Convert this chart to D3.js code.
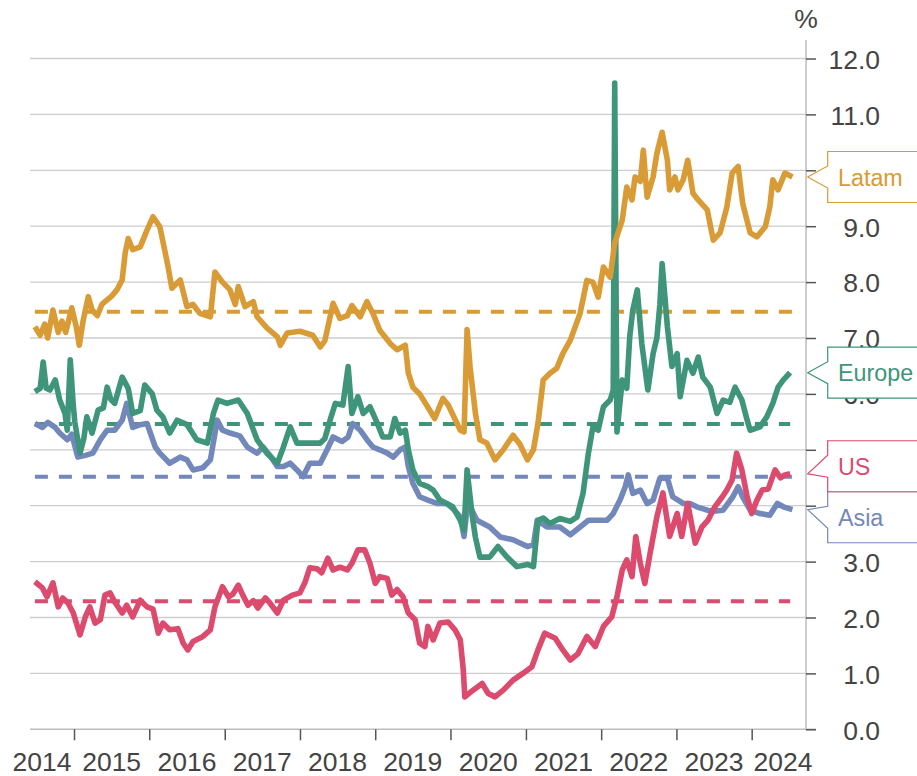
<!DOCTYPE html>
<html>
<head>
<meta charset="utf-8">
<script src="https://cdn.jsdelivr.net/npm/d3@7"></script>
<style>
  body { margin: 0; background: #fff; }
  svg { display: block; font-family: "Liberation Sans", Arial, Helvetica, sans-serif; }
</style>
</head>
<body>
<svg id="chart" width="917" height="776"></svg>
<script>
// ---------------- DATA ----------------
const seriesNames = ["Asia", "Europe", "Latam", "US"];
const seriesColors = ["#7388BA", "#3E9579", "#D99B35", "#DC4A6D"];
const averages = [4.52, 5.46, 7.47, 2.29];

// [decimal year, %]
const asia = [[2014.48,5.47],[2014.58,5.40],[2014.65,5.49],[2014.75,5.40],[2014.81,5.30],[2014.91,5.18],[2014.97,5.28],[2015.05,4.87],[2015.15,4.90],[2015.25,4.94],[2015.35,5.18],[2015.44,5.35],[2015.54,5.35],[2015.64,5.53],[2015.70,5.83],[2015.78,5.40],[2015.88,5.45],[2015.97,5.47],[2016.08,5.05],[2016.14,4.94],[2016.27,4.76],[2016.41,4.87],[2016.50,4.82],[2016.58,4.64],[2016.71,4.68],[2016.81,4.82],[2016.90,5.53],[2016.97,5.35],[2017.07,5.30],[2017.20,5.25],[2017.30,5.05],[2017.43,4.94],[2017.51,5.05],[2017.60,4.90],[2017.70,4.70],[2017.78,4.70],[2017.87,4.76],[2017.96,4.64],[2018.04,4.52],[2018.13,4.76],[2018.27,4.76],[2018.36,5.00],[2018.44,5.23],[2018.56,5.15],[2018.64,5.23],[2018.70,5.47],[2018.80,5.35],[2018.89,5.18],[2018.97,5.05],[2019.06,5.00],[2019.16,4.94],[2019.24,4.87],[2019.33,5.00],[2019.40,5.05],[2019.44,4.70],[2019.50,4.40],[2019.59,4.16],[2019.70,4.10],[2019.82,4.04],[2019.95,4.04],[2020.03,3.95],[2020.13,3.80],[2020.18,3.45],[2020.23,4.10],[2020.29,3.90],[2020.35,3.74],[2020.52,3.62],[2020.66,3.44],[2020.83,3.39],[2021.02,3.27],[2021.10,3.30],[2021.15,3.74],[2021.28,3.62],[2021.45,3.62],[2021.59,3.48],[2021.72,3.62],[2021.83,3.74],[2021.95,3.74],[2022.08,3.74],[2022.16,3.86],[2022.25,4.10],[2022.32,4.34],[2022.36,4.55],[2022.42,4.22],[2022.52,4.28],[2022.61,4.04],[2022.69,4.10],[2022.78,4.49],[2022.88,4.49],[2022.95,4.16],[2023.09,4.04],[2023.18,4.04],[2023.27,3.98],[2023.41,3.92],[2023.49,3.90],[2023.62,3.92],[2023.75,4.16],[2023.82,4.34],[2023.88,4.16],[2023.98,3.92],[2024.11,3.86],[2024.24,3.83],[2024.34,4.04],[2024.42,3.98],[2024.54,3.93]];

const europe = [[2014.48,6.04],[2014.55,6.10],[2014.59,6.57],[2014.63,6.10],[2014.68,6.07],[2014.75,6.25],[2014.81,5.89],[2014.88,5.65],[2014.91,5.35],[2014.95,6.61],[2014.99,5.80],[2015.01,5.50],[2015.08,4.94],[2015.13,5.20],[2015.17,5.59],[2015.24,5.30],[2015.32,5.71],[2015.39,5.75],[2015.44,6.12],[2015.49,5.90],[2015.54,5.83],[2015.64,6.30],[2015.72,6.10],[2015.78,5.65],[2015.88,5.70],[2015.94,6.16],[2016.04,6.00],[2016.10,5.71],[2016.18,5.59],[2016.27,5.30],[2016.37,5.53],[2016.50,5.45],[2016.63,5.18],[2016.77,5.12],[2016.85,5.65],[2016.91,5.89],[2017.03,5.83],[2017.18,5.89],[2017.30,5.65],[2017.43,5.18],[2017.56,4.94],[2017.70,4.76],[2017.78,5.05],[2017.87,5.41],[2017.96,5.12],[2018.09,5.12],[2018.27,5.12],[2018.33,5.20],[2018.40,5.53],[2018.47,5.83],[2018.57,5.80],[2018.64,6.49],[2018.69,5.65],[2018.77,5.95],[2018.84,5.65],[2018.93,5.77],[2019.02,5.50],[2019.10,5.23],[2019.20,5.23],[2019.26,5.56],[2019.33,5.30],[2019.40,5.35],[2019.44,5.00],[2019.50,4.64],[2019.59,4.40],[2019.70,4.34],[2019.77,4.28],[2019.86,4.10],[2019.95,4.04],[2020.03,3.98],[2020.13,3.74],[2020.18,3.56],[2020.22,4.64],[2020.29,3.80],[2020.33,3.44],[2020.39,3.08],[2020.52,3.08],[2020.63,3.27],[2020.75,3.08],[2020.88,2.91],[2021.02,2.95],[2021.10,2.91],[2021.16,3.74],[2021.23,3.78],[2021.32,3.68],[2021.45,3.77],[2021.59,3.72],[2021.68,3.80],[2021.76,4.23],[2021.83,4.94],[2021.89,5.41],[2021.96,5.35],[2022.03,5.77],[2022.12,5.89],[2022.16,6.07],[2022.18,11.56],[2022.21,5.32],[2022.28,6.25],[2022.34,6.10],[2022.38,7.03],[2022.42,7.50],[2022.48,7.86],[2022.54,6.90],[2022.62,6.07],[2022.69,6.72],[2022.74,7.00],[2022.78,7.60],[2022.81,8.33],[2022.88,7.20],[2022.94,6.49],[2023.01,6.72],[2023.05,5.95],[2023.14,6.60],[2023.22,6.37],[2023.29,6.66],[2023.35,6.30],[2023.45,6.12],[2023.54,5.65],[2023.62,5.89],[2023.71,5.85],[2023.78,6.12],[2023.87,5.89],[2023.94,5.53],[2023.98,5.35],[2024.11,5.41],[2024.20,5.59],[2024.28,5.83],[2024.35,6.12],[2024.42,6.25],[2024.51,6.38]];

const latam = [[2014.48,7.20],[2014.55,7.05],[2014.61,7.25],[2014.65,7.00],[2014.72,7.50],[2014.79,7.10],[2014.84,7.30],[2014.89,7.10],[2014.97,7.54],[2015.03,7.20],[2015.07,6.87],[2015.12,7.30],[2015.19,7.74],[2015.24,7.50],[2015.31,7.40],[2015.37,7.60],[2015.44,7.68],[2015.50,7.75],[2015.57,7.86],[2015.64,8.04],[2015.68,8.52],[2015.72,8.78],[2015.78,8.58],[2015.88,8.63],[2015.97,8.93],[2016.05,9.17],[2016.14,8.99],[2016.24,8.34],[2016.30,7.89],[2016.41,8.04],[2016.50,7.56],[2016.58,7.60],[2016.67,7.44],[2016.81,7.38],[2016.87,8.18],[2016.97,8.00],[2017.07,7.86],[2017.14,7.60],[2017.18,7.92],[2017.27,7.56],[2017.38,7.65],[2017.43,7.38],[2017.56,7.18],[2017.70,7.02],[2017.74,6.87],[2017.83,7.09],[2018.00,7.12],[2018.17,7.05],[2018.27,6.84],[2018.33,6.95],[2018.44,7.62],[2018.53,7.35],[2018.63,7.40],[2018.69,7.58],[2018.80,7.38],[2018.89,7.65],[2018.97,7.44],[2019.06,7.14],[2019.20,6.90],[2019.29,6.79],[2019.40,6.87],[2019.44,6.37],[2019.50,6.12],[2019.59,6.00],[2019.70,5.76],[2019.79,5.56],[2019.90,5.92],[2019.97,5.80],[2020.13,5.35],[2020.18,5.32],[2020.22,7.15],[2020.26,6.48],[2020.33,5.66],[2020.39,5.18],[2020.48,5.12],[2020.59,4.82],[2020.70,5.00],[2020.83,5.26],[2020.92,5.10],[2021.02,4.82],[2021.10,5.00],[2021.16,5.47],[2021.23,6.25],[2021.32,6.37],[2021.41,6.46],[2021.49,6.72],[2021.59,6.96],[2021.72,7.44],[2021.81,8.03],[2021.89,8.00],[2021.96,7.73],[2022.03,8.27],[2022.12,8.09],[2022.18,8.70],[2022.28,9.11],[2022.34,9.70],[2022.41,9.47],[2022.45,9.88],[2022.52,9.80],[2022.56,10.36],[2022.61,9.52],[2022.69,9.88],[2022.74,10.30],[2022.81,10.68],[2022.88,10.18],[2022.91,9.65],[2022.98,9.88],[2023.02,9.65],[2023.09,9.83],[2023.15,10.18],[2023.22,9.59],[2023.29,9.47],[2023.41,9.29],[2023.49,8.75],[2023.58,8.88],[2023.67,9.34],[2023.74,9.95],[2023.82,10.07],[2023.88,9.41],[2023.98,8.88],[2024.07,8.81],[2024.18,8.99],[2024.24,9.34],[2024.28,9.83],[2024.35,9.65],[2024.44,9.95],[2024.54,9.88]];

const us = [[2014.48,2.64],[2014.58,2.53],[2014.64,2.37],[2014.72,2.62],[2014.79,2.19],[2014.85,2.35],[2014.92,2.26],[2014.99,2.08],[2015.08,1.69],[2015.15,2.01],[2015.21,2.19],[2015.28,1.90],[2015.35,1.96],[2015.41,2.40],[2015.48,2.44],[2015.54,2.28],[2015.64,2.08],[2015.70,2.22],[2015.78,2.01],[2015.88,2.31],[2015.97,2.19],[2016.05,2.15],[2016.12,1.72],[2016.18,1.90],[2016.27,1.78],[2016.38,1.80],[2016.45,1.54],[2016.51,1.42],[2016.58,1.57],[2016.70,1.65],[2016.81,1.78],[2016.87,2.19],[2016.97,2.55],[2017.05,2.37],[2017.11,2.42],[2017.18,2.58],[2017.24,2.40],[2017.31,2.22],[2017.38,2.30],[2017.44,2.17],[2017.54,2.35],[2017.60,2.26],[2017.70,2.08],[2017.78,2.31],[2017.90,2.40],[2018.00,2.44],[2018.07,2.64],[2018.13,2.89],[2018.23,2.87],[2018.29,2.80],[2018.37,3.06],[2018.44,2.85],[2018.53,2.90],[2018.63,2.85],[2018.69,2.97],[2018.77,3.21],[2018.86,3.21],[2018.93,2.97],[2019.00,2.61],[2019.06,2.73],[2019.16,2.70],[2019.22,2.40],[2019.29,2.50],[2019.37,2.37],[2019.44,2.08],[2019.53,1.96],[2019.59,1.54],[2019.66,1.48],[2019.70,1.84],[2019.77,1.60],[2019.86,1.90],[2019.97,1.92],[2020.06,1.78],[2020.13,1.60],[2020.17,1.06],[2020.19,0.58],[2020.30,0.70],[2020.42,0.82],[2020.50,0.64],[2020.59,0.58],[2020.70,0.70],[2020.83,0.88],[2020.96,1.00],[2021.08,1.12],[2021.16,1.42],[2021.25,1.72],[2021.39,1.63],[2021.49,1.42],[2021.59,1.24],[2021.69,1.35],[2021.81,1.66],[2021.92,1.48],[2022.03,1.84],[2022.14,2.01],[2022.21,2.37],[2022.28,2.85],[2022.34,3.03],[2022.41,2.73],[2022.46,3.45],[2022.52,2.97],[2022.58,2.61],[2022.65,3.15],[2022.74,3.80],[2022.82,4.23],[2022.91,3.45],[2023.01,3.86],[2023.07,3.45],[2023.15,4.04],[2023.25,3.33],[2023.34,3.62],[2023.42,3.74],[2023.51,3.98],[2023.61,4.16],[2023.67,4.28],[2023.74,4.46],[2023.80,4.94],[2023.87,4.64],[2023.94,4.16],[2024.00,3.86],[2024.07,4.10],[2024.14,4.28],[2024.22,4.30],[2024.31,4.64],[2024.38,4.50],[2024.44,4.55],[2024.51,4.57]];

const seriesData = [asia, europe, latam, us];

const yTicks = [0,1,2,3,4,5,6,7,8,9,10,11,12];
const xTickYears = [2015,2016,2017,2018,2019,2020,2021,2022,2023,2024];
const xLabels = ["2014","2015","2016","2017","2018","2019","2020","2021","2022","2023","2024"];
const xDomainYears = [2014.415, 2024.72];
const yDomain = [0, 12];
const unitLabel = "%";

// ---------------- HELPERS ----------------
function toDate(t) {
  const yr = Math.floor(t);
  const a = new Date(yr, 0, 1), b = new Date(yr + 1, 0, 1);
  return new Date(+a + (t - yr) * (b - a));
}

// ---------------- LAYOUT ----------------
const plotLeft = 30, plotRight = 806, plotTop = 58.5, plotBottom = 729.3;
const svg = d3.select("#chart");
const x = d3.scaleTime().domain(xDomainYears.map(toDate)).range([plotLeft, plotRight]);
const y = d3.scaleLinear().domain(yDomain).range([plotBottom, plotTop]);
const textColor = "#444444";

// end tag positions (computed first so fully hidden tick labels can be skipped)
const boxH = 51, boxLeft = 827.7, tipX = 807.7, baseHalf = 11;
const tags = seriesNames.map((n, i) => {
  const d = seriesData[i];
  const tip = y(d[d.length - 1][1]);
  return { name: n, color: seriesColors[i], tip: tip, c: tip };
});
const sorted = tags.slice().sort((a, b) => a.c - b.c);
for (let k = 0; k < 30; k++) {
  for (let i = 1; i < sorted.length; i++) {
    const a = sorted[i - 1], b = sorted[i];
    const ov = a.c + boxH - b.c;
    if (ov > 0) { a.c -= ov / 2; b.c += ov / 2; }
  }
}
const hiddenByTag = v => tags.some(t => y(v) - 11 >= t.c - boxH / 2 && y(v) + 11 <= t.c + boxH / 2);

// gridlines
svg.append("g").selectAll("line").data(yTicks.filter(v => v > 0)).join("line")
  .attr("x1", plotLeft).attr("x2", plotRight)
  .attr("y1", d => y(d)).attr("y2", d => y(d))
  .attr("stroke", "#cdcdcd").attr("stroke-width", 1.3);

// baseline
svg.append("line").attr("x1", plotLeft).attr("x2", plotRight + 10)
  .attr("y1", y(0)).attr("y2", y(0)).attr("stroke", "#bdbdbd").attr("stroke-width", 1.5);
// vertical axis line
svg.append("line").attr("x1", plotRight).attr("x2", plotRight)
  .attr("y1", 40).attr("y2", y(0)).attr("stroke", "#bdbdbd").attr("stroke-width", 1.5);

// right axis
const yAxis = svg.append("g").attr("transform", `translate(${plotRight},0)`)
  .call(d3.axisRight(y).tickValues(yTicks)
    .tickFormat(v => hiddenByTag(v) ? "" : d3.format(".1f")(v)).tickSize(10));
yAxis.select(".domain").remove();
yAxis.selectAll(".tick line").attr("stroke", "#555").attr("stroke-width", 1.5);
yAxis.selectAll(".tick text").attr("x", 74).attr("dy", "0.37em")
  .attr("text-anchor", "end").attr("fill", textColor)
  .style("font-size", "26.5px").style("font-family", "'Liberation Sans', Arial, sans-serif");

// bottom axis ticks
const xAxis = svg.append("g").attr("transform", `translate(0,${y(0)})`)
  .call(d3.axisBottom(x).tickValues(xTickYears.map(toDate)).tickSize(11).tickFormat(() => ""));
xAxis.select(".domain").remove();
xAxis.selectAll(".tick line").attr("stroke", "#555").attr("stroke-width", 1.5);

// year labels centered in year intervals
svg.append("g").selectAll("text").data(xLabels).join("text")
  .attr("x", d => Math.max(42, Math.min(783, x(toDate(+d + 0.5)))))
  .attr("y", 771)
  .attr("text-anchor", "middle")
  .attr("fill", textColor)
  .style("font-size", "26.5px")
  .text(d => d);

// unit label
svg.append("text").attr("x", plotRight).attr("y", 28).attr("text-anchor", "middle")
  .attr("fill", textColor).style("font-size", "26.5px").text(unitLabel);

// average dashed lines
seriesData.forEach((data, i) => {
  svg.append("line")
    .attr("x1", x(toDate(data[0][0]))).attr("x2", x(toDate(data[data.length - 1][0])))
    .attr("y1", y(averages[i])).attr("y2", y(averages[i]))
    .attr("stroke", seriesColors[i]).attr("stroke-width", 4)
    .attr("stroke-dasharray", "13,11");
});

// series lines
const line = d3.line().x(d => x(toDate(d[0]))).y(d => y(d[1]));
seriesData.forEach((data, i) => {
  svg.append("path").datum(data)
    .attr("d", line)
    .attr("fill", "none")
    .attr("stroke", seriesColors[i])
    .attr("stroke-width", 5.6)
    .attr("stroke-linejoin", "round")
    .attr("stroke-linecap", "butt");
});

// end tags
tags.forEach(t => {
  const T = t.c - boxH / 2, B = t.c + boxH / 2, R = 940;
  const p = `M${R},${T} L${boxLeft},${T} L${boxLeft},${t.c - baseHalf} L${tipX},${t.tip} L${boxLeft},${t.c + baseHalf} L${boxLeft},${B} L${R},${B} Z`;
  svg.append("path").attr("d", p).attr("fill", "#fff").attr("stroke", t.color).attr("stroke-width", 1.2);
  svg.append("text").attr("x", 838).attr("y", t.c + 8.5)
    .attr("fill", t.color).style("font-size", "23.3px").text(t.name);
});
</script>
</body>
</html>
